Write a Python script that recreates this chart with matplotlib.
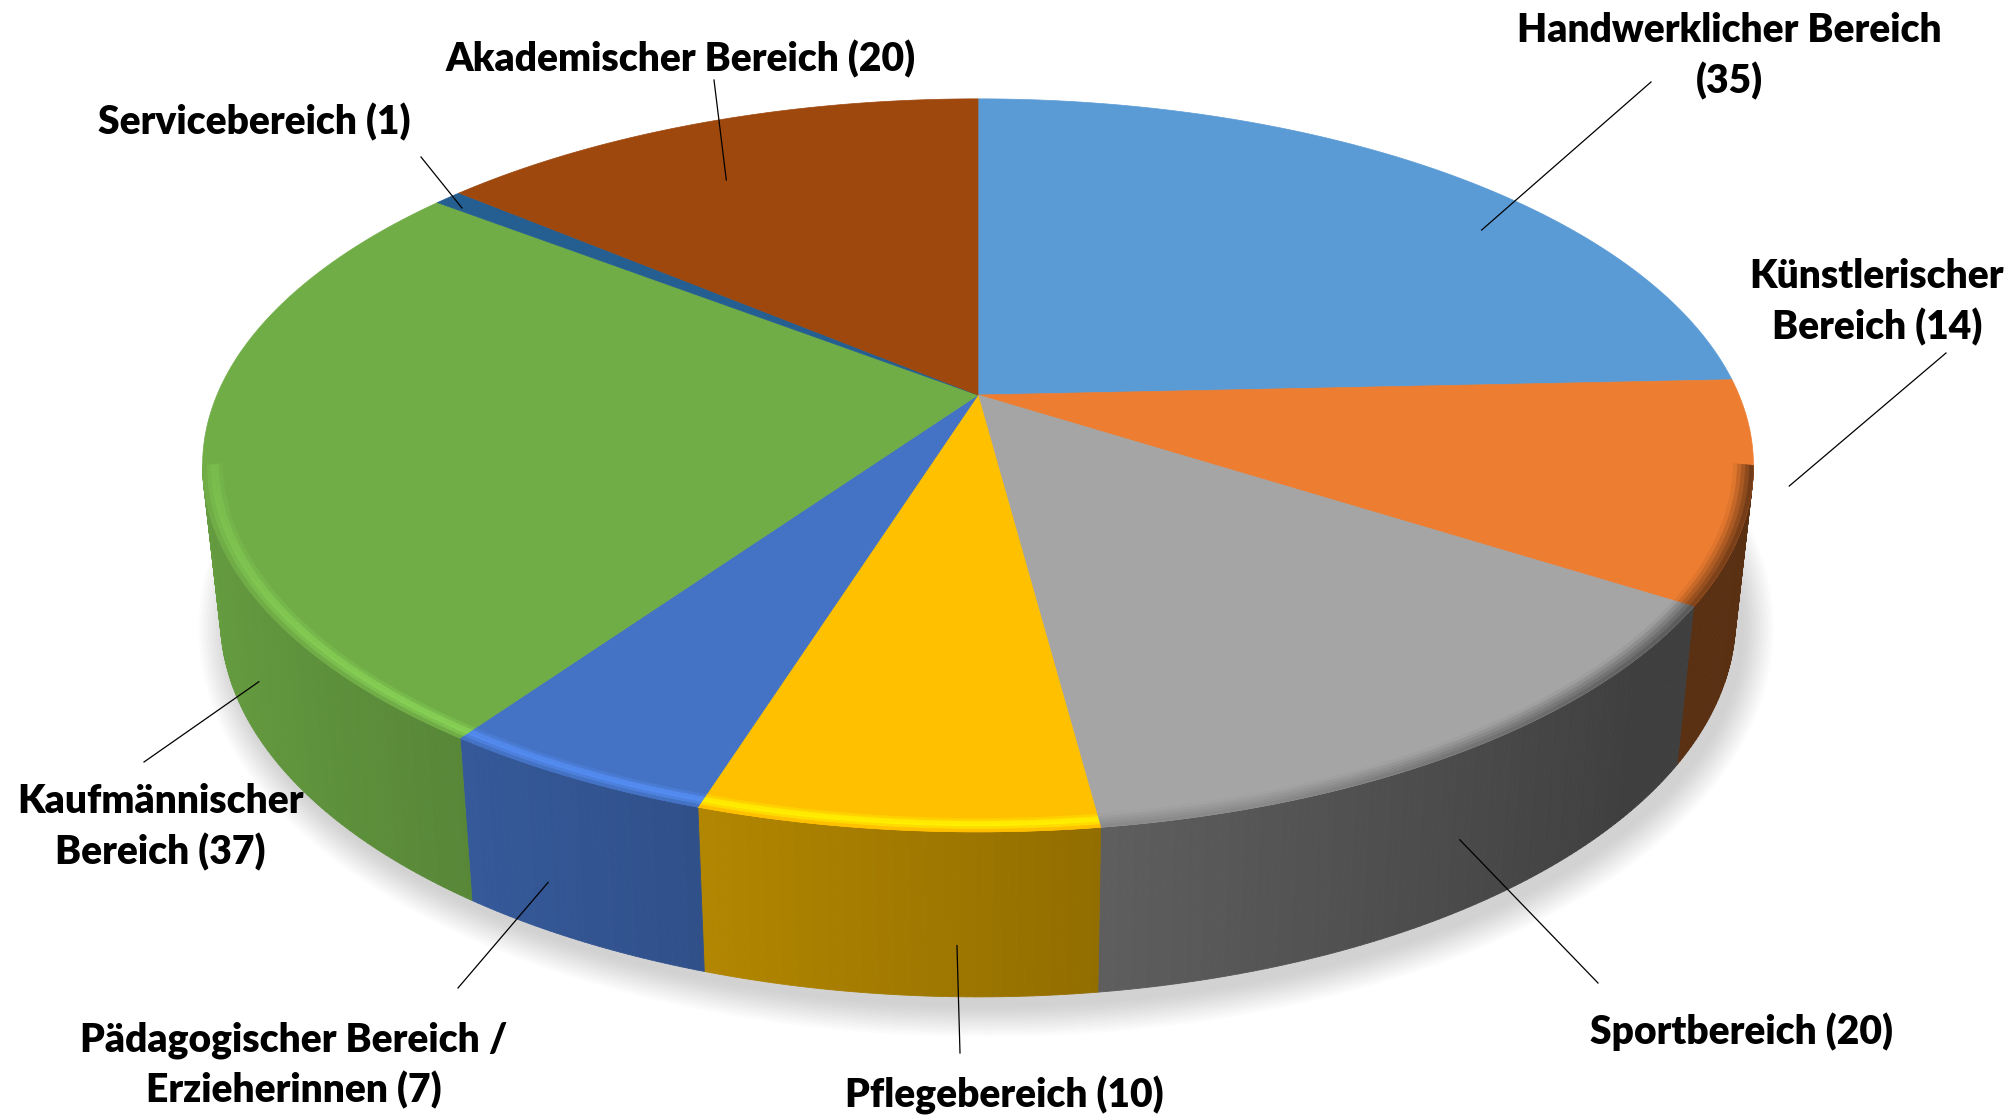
import numpy as np
import matplotlib
matplotlib.use("Agg")
import matplotlib.pyplot as plt
from matplotlib.patches import Polygon
from matplotlib.collections import PolyCollection
from matplotlib.colors import to_rgb

# data
categories = ["Handwerklicher Bereich", "Künstlerischer Bereich", "Sportbereich",
              "Pflegebereich", "Pädagogischer Bereich / Erzieherinnen",
              "Kaufmännischer Bereich", "Servicebereich", "Akademischer Bereich"]
values = [35, 14, 20, 10, 7, 37, 1, 20]
label_fmt = ["Handwerklicher Bereich\n({})", "Künstlerischer\nBereich ({})",
             "Sportbereich ({})", "Pflegebereich ({})",
             "Pädagogischer Bereich /\nErzieherinnen ({})",
             "Kaufmännischer\nBereich ({})", "Servicebereich ({})",
             "Akademischer Bereich ({})"]
colors = ["#5B9BD5", "#ED7D31", "#A5A5A5", "#FFC000",
          "#4472C4", "#70AD47", "#255E91", "#9E480E"]

# layout: label centre (x, cap centre of first line), leader outer end,
# leader inner anchor (fraction through slice, radius, depth on side wall)
label_pos = [(1729, 28), (1877, 274), (1742, 1030), (1004, 1093),
             (294, 1037), (160, 799), (254, 120), (681, 57)]
leader_out = [(1651, 82), (1946, 353), (1598, 983), (960, 1053),
              (458, 988), (144, 762), (421, 157), (714, 80)]
leader_in = [(0.626, 0.89, 0), (0.46, 1.045, 0), (0.5, 1, 0.55), (0.352, 1, 0.69),
             (0.629, 1, 0.7), (0.27, 1, 0.58), (0.2, 0.958, 0), (0.43, 0.785, 0)]

# projection of the tilted disc (perspective)
CX, CY = 978, 395
R, S, K = 761, 353, 0.192
BOT_SCALE = 0.977   # bottom rim a little narrower (lines converge downwards)


def proj(t, r=1.0, d=0.0):
    t = np.radians(t)
    u = r * np.cos(t)
    v = r * np.sin(t)
    w = 1 + K * v
    xt = CX + R * u / w
    yt = CY - S * v / w
    xb = CX + (xt - CX) * BOT_SCALE
    yb = yt + 150 - 15 * v
    return xt + d * (xb - xt), yt + d * (yb - yt)


def shade(c, f):
    c = np.array(to_rgb(c))
    return tuple(np.clip(c * f, 0, 1))


fig = plt.figure(figsize=(20.16, 11.16), dpi=100)
ax = fig.add_axes([0, 0, 1, 1])
ax.set_xlim(0, 2016)
ax.set_ylim(1116, 0)
ax.axis("off")

total = sum(values)
ends = 90 - np.cumsum(values) / total * 360
starts = np.concatenate([[90], ends[:-1]])

vis_lo = -180 + np.degrees(np.arcsin(K))
vis_hi = -np.degrees(np.arcsin(K))

# soft shadow under the pie
ts = np.linspace(0, 360, 721)[:-1]
bx, by = proj(ts, 1.0, 1.0)
P = np.column_stack([bx + 8, by + 10])
tang = np.roll(P, -1, axis=0) - np.roll(P, 1, axis=0)
nrm = np.column_stack([tang[:, 1], -tang[:, 0]])
nrm /= np.linalg.norm(nrm, axis=1)[:, None]
cen = P.mean(axis=0)
flip = np.sign(((P - cen) * nrm).sum(axis=1))
nrm *= flip[:, None]
for dd in np.linspace(30, 0, 16):
    ax.add_patch(Polygon(P + nrm * dd, closed=True, facecolor=(0.35, 0.35, 0.35),
                         alpha=0.016, edgecolor="none", zorder=1))

# side walls
side_polys, side_cols = [], []
for a0, a1, c in zip(starts, ends, colors):
    hi = min(a0, vis_hi)
    lo = max(a1, vis_lo)
    if hi <= lo:
        continue
    tt = np.linspace(hi, lo, max(int((hi - lo) * 2), 2))
    for i in range(len(tt) - 1):
        x0, y0 = proj(tt[i])
        x1, y1 = proj(tt[i + 1])
        x2, y2 = proj(tt[i + 1], 1.0, 1.0)
        x3, y3 = proj(tt[i], 1.0, 1.0)
        um = np.cos(np.radians((tt[i] + tt[i + 1]) / 2))
        f = max(0.61 - 0.3 * um, 0.38)
        side_polys.append([(x0, y0), (x1, y1), (x2, y2), (x3, y3)])
        side_cols.append(shade(c, f))
ax.add_collection(PolyCollection(side_polys, facecolors=side_cols, edgecolors=side_cols,
                                 linewidths=0.6, zorder=2))

# top faces
for a0, a1, c in zip(starts, ends, colors):
    tt = np.linspace(a0, a1, max(int((a0 - a1) * 2), 3))
    xs, ys = proj(tt)
    pts = [(CX, CY)] + list(zip(xs, ys))
    ax.add_patch(Polygon(pts, closed=True, facecolor=c, edgecolor=c, lw=0.5, zorder=3))

# bevel along the front rim (bright on left-facing slices, dark on right-facing)
bev_polys, bev_cols = [], []
rings = np.linspace(0.975, 1.0, 6)
for a0, a1, c in zip(starts, ends, colors):
    hi = min(a0, vis_hi)
    lo = max(a1, vis_lo)
    if hi <= lo:
        continue
    bright = np.cos(np.radians((a0 + a1) / 2)) < 0.2
    tt = np.linspace(hi, lo, max(int((hi - lo) * 2), 2))
    for i in range(len(tt) - 1):
        tm = np.radians((tt[i] + tt[i + 1]) / 2)
        um, vm = np.cos(tm), np.sin(tm)
        fb = 1.05 + 0.2 * (-vm) if bright else 1.0 - 0.6 * max(um, 0.3)
        for j in range(len(rings) - 1):
            pos = (j + 0.5) / (len(rings) - 1)
            g = np.sin(np.pi * min(pos * 1.15, 1.0)) if bright else pos
            f = 1 + (fb - 1) * g
            x0, y0 = proj(tt[i], rings[j])
            x1, y1 = proj(tt[i + 1], rings[j])
            x2, y2 = proj(tt[i + 1], rings[j + 1])
            x3, y3 = proj(tt[i], rings[j + 1])
            bev_polys.append([(x0, y0), (x1, y1), (x2, y2), (x3, y3)])
            bev_cols.append(shade(c, f))
ax.add_collection(PolyCollection(bev_polys, facecolors=bev_cols, edgecolors=bev_cols,
                                 linewidths=0.4, zorder=4))

# labels with leader lines
fam = ["Lato", "DejaVu Sans"]
wt = "heavy"
probe = ax.text(0, 0, label_fmt[7].format(values[7]), fontsize=30, fontweight=wt,
                family=fam)
fig.canvas.draw()
wpx = probe.get_window_extent(fig.canvas.get_renderer()).width
probe.remove()
fs = 30 * 471 / wpx
cap = fs * 100 / 72 * 0.72
line_gap = 51

for i, (a0, a1) in enumerate(zip(starts, ends)):
    frac, rr, dd = leader_in[i]
    xi, yi = proj(a0 - frac * (a0 - a1), rr, dd)
    xo, yo = leader_out[i]
    ax.plot([xo, xi], [yo, yi], color="black", lw=0.9, zorder=5)
    lines = label_fmt[i].format(values[i]).split("\n")
    lx, ly = label_pos[i]
    for j, s in enumerate(lines):
        ax.text(lx, ly + j * line_gap + cap / 2, s, ha="center", va="baseline",
                fontsize=fs, fontweight=wt, family=fam, color="black", zorder=6)

fig.savefig("out.png", dpi=100, facecolor="white")
